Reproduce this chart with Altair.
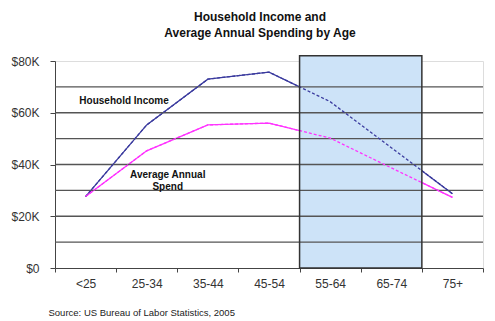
import altair as alt
import pandas as pd

ages = ["<25", "25-34", "35-44", "45-54", "55-64", "65-74", "75+"]
income = [27600, 55300, 73000, 75700, 64300, 46500, 28700]
spend = [27600, 45300, 55300, 56000, 50200, 38700, 27300]
series_names = ["Household Income", "Average Annual Spend"]
series_colors = ["#3a3a9e", "#ff33ff"]
grid_values = [10000, 20000, 30000, 40000, 50000, 60000, 70000]
y_ticks = [0, 20000, 40000, 60000, 80000]
box_start, box_end, box_top = "55-64", "65-74", 82000

label_ages = ["<25", "25-34", "25-34"]
label_values = [64600, 36000, 31400]
label_texts = ["Household Income", "Average Annual", "Spend"]

labels_df = pd.DataFrame({"age": label_ages, "value": label_values, "text": label_texts})
df = pd.DataFrame({
    "age": ages * 2,
    "value": income + spend,
    "series": [series_names[0]] * len(ages) + [series_names[1]] * len(ages),
})
box_df = pd.DataFrame({"start": [box_start], "end": [box_end], "top": [box_top], "bottom": [0]})
grid_df = pd.DataFrame({"value": grid_values})

FONT = "Liberation Sans"
xscale = alt.Scale(type="band", domain=ages, paddingInner=0, paddingOuter=0)
yscale = alt.Scale(domain=[0, 80000], nice=False)

x_line = alt.X(
    "age:N", scale=xscale, bandPosition=0.5,
    axis=alt.Axis(
        tickBand="extent", labelAngle=0, labelFontSize=12, labelColor="#333",
        labelPadding=6, tickSize=4, tickColor="#444", domainColor="#444",
        title="Source: US Bureau of Labor Statistics, 2005",
        titleFontSize=9.5, titleFontWeight="normal", titleColor="#222",
        titleAnchor="start", titleAlign="left", titleX=-7, titleY=44,
        titleBaseline="middle",
    ),
)
y_line = alt.Y(
    "value:Q", scale=yscale,
    axis=alt.Axis(
        values=y_ticks, grid=False, title=None,
        labelExpr="datum.value == 0 ? '$0' : '$' + datum.value/1000 + 'K'",
        labelFontSize=12, labelColor="#333", labelPadding=11, tickSize=5,
        tickColor="#444", domainColor="#444",
    ),
)
color = alt.Color("series:N", scale=alt.Scale(domain=series_names, range=series_colors), legend=None)

solid = alt.Chart(df).mark_line(strokeWidth=1.3).encode(x=x_line, y=y_line, color=color, detail="series:N")

box_fill = alt.Chart(box_df).mark_rect(fill="#cde3f8", stroke=None).encode(
    x=alt.X("start:N", scale=xscale, bandPosition=0),
    x2=alt.X2("end:N", bandPosition=1),
    y=alt.Y("top:Q", scale=yscale),
    y2="bottom:Q",
)
grid = alt.Chart(grid_df).mark_rule(color="#555", strokeWidth=1.3).encode(
    y=alt.Y("value:Q", scale=yscale)
)
dashed = alt.Chart(df).mark_line(strokeWidth=1.3, strokeDash=[3, 2]).encode(
    x=x_line, y=y_line, color=color, detail="series:N"
)
box_outline = alt.Chart(box_df).mark_rect(fill=None, stroke="#333", strokeWidth=1.5).encode(
    x=alt.X("start:N", scale=xscale, bandPosition=0),
    x2=alt.X2("end:N", bandPosition=1),
    y=alt.Y("top:Q", scale=yscale),
    y2="bottom:Q",
)
t1 = alt.Chart(labels_df.iloc[[0]]).mark_text(
    font=FONT, fontSize=10, fontWeight="bold", color="#111", baseline="middle", dx=38.5
).encode(x=alt.X("age:N", scale=xscale, bandPosition=0.5), y=alt.Y("value:Q", scale=yscale), text="text:N")
t2 = alt.Chart(labels_df.iloc[[1, 2]]).mark_text(
    font=FONT, fontSize=10, fontWeight="bold", color="#111", baseline="middle", dx=21
).encode(x=alt.X("age:N", scale=xscale, bandPosition=0.5), y=alt.Y("value:Q", scale=yscale), text="text:N")

chart = alt.layer(solid, box_fill, grid, dashed, box_outline, t1, t2).properties(
    width=428, height=207,
    autosize=alt.AutoSizeParams(type="none"),
    padding={"left": 55, "top": 61, "right": 12, "bottom": 53},
    title=alt.TitleParams(
        ["Household Income and", "Average Annual Spending by Age"],
        fontSize=12, fontWeight="bold", font=FONT, color="#111",
        anchor="middle", lineHeight=16, offset=15, dx=-9,
    ),
).configure_view(stroke=None).configure(font=FONT, background="white")

chart.save("out.html", embed_options={"renderer": "svg", "actions": False})
